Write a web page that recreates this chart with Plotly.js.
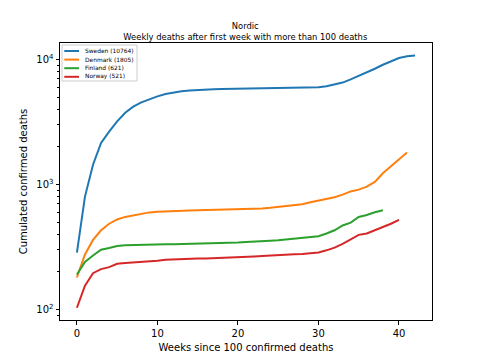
<!DOCTYPE html>
<html><head><meta charset="utf-8">
<script src="https://cdn.plot.ly/plotly-3.0.1.min.js"></script>
<style>body{margin:0;}#chart{width:480px;height:360px;}</style>
</head><body><div id="chart"></div>
<script>
const seriesNames = ["Sweden (10764)", "Denmark (1805)", "Finland (621)", "Norway (521)"];
const seriesColors = ["#1f77b4", "#ff7f0e", "#2ca02c", "#d62728"];
const sweden = [285,800,1440,2150,2650,3200,3750,4200,4550,4830,5080,5300,5460,5570,5660,5720,5760,5790,5810,5820,5830,5840,5850,5860,5870,5880,5890,5900,5920,5950,6000,6120,6300,6550,6950,7400,7900,8450,9100,9750,10300,10650,10764];
const denmark = [180,275,360,430,485,525,550,568,582,598,605,610,613,616,619,621,623,625,628,630,632,634,637,642,650,660,670,682,695,720,745,765,790,830,880,910,960,1050,1230,1400,1590,1805];
const finland = [190,240,270,300,310,322,326,328,329,331,332,332,332,333,334,336,338,339,340,341,343,346,350,353,355,357,362,367,373,378,385,405,430,470,495,550,570,600,621];
const norway = [103,155,195,210,218,232,235,237,238,242,245,250,252,253,255,256,256,257,260,262,262,263,265,267,270,273,274,276,278,282,286,297,312,335,362,395,405,430,455,485,521];
const allSeries = [sweden, denmark, finland, norway];
const xTicks = [0,10,20,30,40];
const yTicks = [100,1000,10000];
const yTickText = ["10<sup>2</sup>","10<sup>3</sup>","10<sup>4</sup>"];

const traces = allSeries.map((vals, i) => ({
  x: vals.map((v, k) => k),
  y: vals,
  type: 'scatter',
  mode: 'lines',
  name: seriesNames[i],
  showlegend: false,
  line: {color: seriesColors[i], width: 2}
}));

const minorVals = [];
[100,1000].forEach(b => { for (let m = 2; m <= 9; m++) minorVals.push(b*m); });
[60,70,80,90,20000].forEach(v => minorVals.push(v));

// compact legend (matplotlib-like), drawn in plot-area paper coordinates
const plotW = 372, plotH = 277;
const px = v => v / plotW, py = v => 1 - v / plotH;
const shapes = [{
  type: "rect", xref: "paper", yref: "paper",
  x0: px(2), x1: px(77), y0: py(38), y1: py(2),
  line: {color: "#cccccc", width: 1}, fillcolor: "rgba(255,255,255,0.8)", layer: "above"
}];
const annotations = [];
seriesNames.forEach((name, i) => {
  const rowY = 8 + i * 8.6;
  shapes.push({
    type: "line", xref: "paper", yref: "paper",
    x0: px(4.3), x1: px(19), y0: py(rowY), y1: py(rowY),
    line: {color: seriesColors[i], width: 2}, layer: "above"
  });
  annotations.push({
    xref: "paper", yref: "paper", x: px(22.5), y: py(rowY),
    xanchor: "left", yanchor: "middle", showarrow: false,
    text: name, font: {family: "DejaVu Sans, sans-serif", size: 5.9, color: "#000"}
  });
});

const font = {family: "DejaVu Sans, sans-serif", color: "#000"};
const layout = {
  width: 480, height: 360,
  margin: {l: 60, r: 48, t: 43, b: 40},
  paper_bgcolor: "#fff", plot_bgcolor: "#fff",
  font: Object.assign({size: 10}, font),
  showlegend: false,
  shapes: shapes,
  annotations: annotations,
  title: {
    text: "Nordic<br>Weekly deaths after first week with more than 100 deaths",
    font: Object.assign({size: 8.4}, font),
    x: 0.511, xanchor: "center", y: 0.92, yanchor: "top"
  },
  xaxis: {
    range: [-2.1, 44.1],
    tickmode: "array", tickvals: xTicks,
    ticks: "outside", ticklen: 3.5, tickcolor: "#000",
    showgrid: false, zeroline: false,
    showline: true, mirror: true, linecolor: "#000", linewidth: 1,
    tickfont: Object.assign({size: 10}, font),
    title: {text: "Weeks since 100 confirmed deaths", font: Object.assign({size: 10}, font), standoff: 6}
  },
  yaxis: {
    type: "log",
    range: [1.915, 4.133],
    tickmode: "array", tickvals: yTicks, ticktext: yTickText,
    ticks: "outside", ticklen: 3.5, tickcolor: "#000",
    minor: {tickmode: "array", tickvals: minorVals, ticks: "outside", ticklen: 2, tickcolor: "#000", showgrid: false},
    showgrid: false, zeroline: false,
    showline: true, mirror: true, linecolor: "#000", linewidth: 1,
    tickfont: Object.assign({size: 10}, font),
    title: {text: "Cumulated confirmed deaths", font: Object.assign({size: 10}, font), standoff: 6}
  }
};
Plotly.newPlot("chart", traces, layout, {displayModeBar: false, staticPlot: true});
</script></body></html>
